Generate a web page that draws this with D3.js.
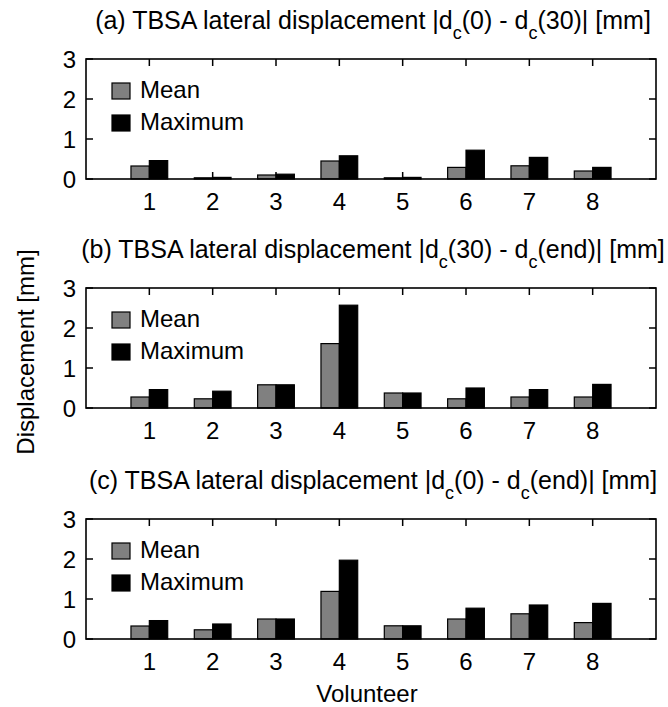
<!DOCTYPE html>
<html><head><meta charset="utf-8">
<script src="https://cdn.jsdelivr.net/npm/d3@7"></script>
<style>
html,body{margin:0;padding:0;background:#fff;}
svg text{font-family:"Liberation Sans Narrow","Arial Narrow","Liberation Sans",sans-serif;fill:#000;}
</style></head>
<body><svg id="chart" width="668" height="707"></svg>
<script>
const volunteers = [1,2,3,4,5,6,7,8];
const yTicks = [0,1,2,3];
const seriesNames = ["Mean","Maximum"];
const seriesColors = ["#808080","#000000"];

const meanA = [0.325,0.03,0.10,0.45,0.03,0.29,0.33,0.20];
const maxA  = [0.46,0.04,0.12,0.58,0.04,0.72,0.54,0.29];
const meanB = [0.275,0.23,0.58,1.61,0.375,0.23,0.275,0.275];
const maxB  = [0.46,0.42,0.58,2.57,0.375,0.50,0.46,0.59];
const meanC = [0.325,0.23,0.50,1.19,0.33,0.50,0.63,0.41];
const maxC  = [0.46,0.375,0.50,1.97,0.33,0.77,0.85,0.89];

const panelTitles = [
  ["(a) TBSA lateral displacement |d","c","(0) - d","c","(30)| [mm]"],
  ["(b) TBSA lateral displacement |d","c","(30) - d","c","(end)| [mm]"],
  ["(c) TBSA lateral displacement |d","c","(0) - d","c","(end)| [mm]"]
];
const panelData = [[meanA,maxA],[meanB,maxB],[meanC,maxC]];

const svg = d3.select("#chart");
const left = 86, right = 656;
const tops = [59, 288, 519];
const ph = 120;
const x = d3.scaleLinear().domain([0,9]).range([left,right]);
const barW = 0.29;
const fs = 24;

panelData.forEach((series, pi) => {
  const top = tops[pi], bottom = top + ph;
  const y = d3.scaleLinear().domain([0,3]).range([bottom, top]);
  const g = svg.append("g");

  const tl = 7;
  volunteers.forEach(v => {
    g.append("line").attr("x1",x(v)).attr("x2",x(v)).attr("y1",bottom).attr("y2",bottom-tl).attr("stroke","#000").attr("stroke-width",1.5);
    g.append("line").attr("x1",x(v)).attr("x2",x(v)).attr("y1",top).attr("y2",top+tl).attr("stroke","#000").attr("stroke-width",1.5);
  });
  yTicks.forEach(t => {
    g.append("line").attr("x1",left).attr("x2",left+tl).attr("y1",y(t)).attr("y2",y(t)).attr("stroke","#000").attr("stroke-width",1.5);
    g.append("line").attr("x1",right).attr("x2",right-tl).attr("y1",y(t)).attr("y2",y(t)).attr("stroke","#000").attr("stroke-width",1.5);
  });

  series.forEach((vals, si) => {
    g.selectAll(null).data(vals).enter().append("rect")
      .attr("x",(d,i)=> x(volunteers[i] + (si===0 ? -barW : 0)))
      .attr("width", x(barW)-x(0))
      .attr("y", d=>y(d))
      .attr("height", d=>y(0)-y(d))
      .attr("fill", seriesColors[si])
      .attr("stroke","#000").attr("stroke-width",1.2);
  });

  g.append("rect").attr("x",left).attr("y",top).attr("width",right-left).attr("height",ph)
    .attr("fill","none").attr("stroke","#000").attr("stroke-width",1.6);

  volunteers.forEach(v => {
    g.append("text").attr("x",x(v)).attr("y",bottom+31).attr("text-anchor","middle").attr("font-size",fs).text(v);
  });
  yTicks.forEach(t => {
    g.append("text").attr("x",left-10).attr("y",y(t)+8.5).attr("text-anchor","end").attr("font-size",fs).text(t);
  });

  seriesNames.forEach((n, si) => {
    const ly = top + 24 + si*32;
    g.append("rect").attr("x",left+26).attr("y",ly).attr("width",18).attr("height",16)
      .attr("fill",seriesColors[si]).attr("stroke","#000").attr("stroke-width",1.2);
    g.append("text").attr("x",left+54).attr("y",ly+15).attr("font-size",fs).text(n);
  });

  const parts = panelTitles[pi];
  const tt = g.append("text").attr("x",(left+right)/2 + 2).attr("y",top-30).attr("text-anchor","middle").attr("font-size",fs+1);
  parts.forEach((p, k) => {
    const sub = (k % 2 === 1);
    const ts = tt.append("tspan").text(p);
    if (sub) ts.attr("font-size",18).attr("dy",10);
    else if (k>0) ts.attr("dy",-10);
  });
});

svg.append("text").attr("transform","translate(34,352) rotate(-90)").attr("text-anchor","middle").attr("font-size",fs).text("Displacement [mm]");
svg.append("text").attr("x",(left+right)/2 - 4).attr("y",702).attr("text-anchor","middle").attr("font-size",fs).text("Volunteer");
</script></body></html>
